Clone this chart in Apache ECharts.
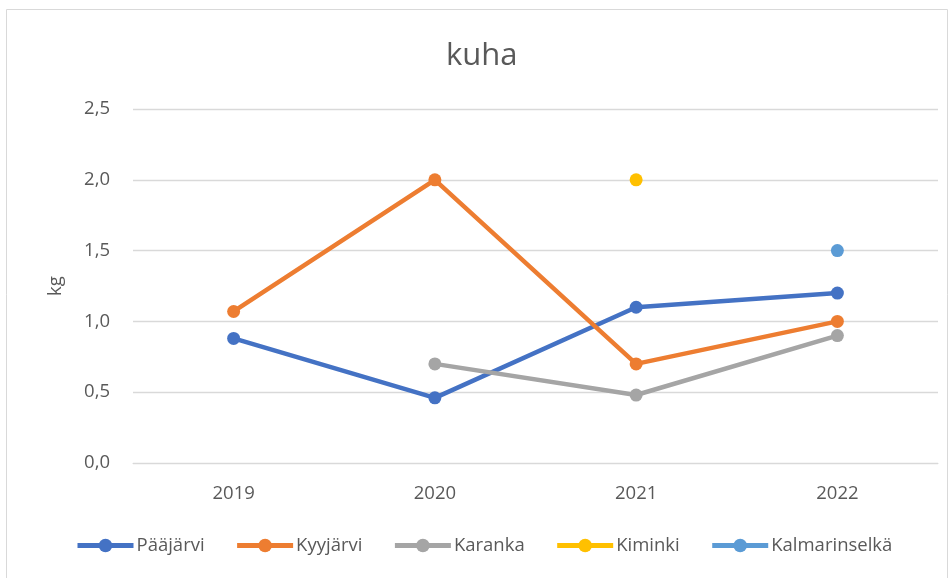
<!DOCTYPE html>
<html>
<head>
<meta charset="utf-8">
<script src="https://cdn.jsdelivr.net/npm/echarts@6/dist/echarts.min.js"></script>
<style>
  html, body { margin: 0; padding: 0; background: #fff; }
  #main { width: 952px; height: 578px; }
</style>
</head>
<body>
<div id="main"></div>
<script>
const years = ['2019', '2020', '2021', '2022'];
const paajarvi = [0.88, 0.46, 1.1, 1.2];
const kyyjarvi = [1.07, 2.0, 0.7, 1.0];
const karanka = [null, 0.7, 0.48, 0.9];
const kiminki = [null, null, 2.0, null];
const kalmarinselka = [null, null, null, 1.5];

const myChart = echarts.init(document.getElementById('main'));

const font = 'Open Sans';

function line(name, data, color) {
  return {
    name: name,
    type: 'line',
    data: data,
    symbol: 'circle',
    symbolSize: 13,
    showAllSymbol: true,
    connectNulls: false,
    itemStyle: { color: color },
    lineStyle: { width: 4.5, color: color }
  };
}

const option = {
  animation: false,
  textStyle: { fontFamily: font },
  graphic: [{
    type: 'rect',
    shape: { x: 6.5, y: 9.5, width: 941, height: 580 },
    style: { fill: 'none', stroke: '#d9d9d9', lineWidth: 1 },
    silent: true
  }],
  title: {
    text: 'kuha',
    left: 441,
    top: 36,
    textStyle: { fontFamily: font, fontSize: 31, fontWeight: 'normal', color: '#595959' }
  },
  legend: {
    bottom: 18,
    left: 70,
    itemWidth: 56,
    itemHeight: 17,
    itemGap: 30,
    lineStyle: { width: 5 },
    textStyle: { fontFamily: font, fontSize: 18.5, color: '#595959', padding: [0, 0, 0, -2] },
    data: ['Pääjärvi', 'Kyyjärvi', 'Karanka', 'Kiminki', 'Kalmarinselkä']
  },
  grid: { left: 133, right: 14, top: 109, bottom: 115 },
  xAxis: {
    type: 'category',
    data: years,
    axisLine: { show: true, lineStyle: { color: '#d9d9d9' } },
    axisTick: { show: false },
    axisLabel: { fontFamily: font, fontSize: 18.5, color: '#595959', margin: 21 }
  },
  yAxis: {
    type: 'value',
    name: 'kg',
    nameLocation: 'middle',
    nameGap: 68,
    nameTextStyle: { fontFamily: font, fontSize: 18.5, color: '#595959' },
    min: 0,
    max: 2.5,
    interval: 0.5,
    axisLine: { show: false },
    axisTick: { show: false },
    splitLine: { lineStyle: { color: '#d9d9d9', width: 1.3 } },
    axisLabel: {
      fontFamily: font, fontSize: 18.5, color: '#595959', margin: 23,
      formatter: v => v.toFixed(1).replace('.', ',')
    }
  },
  series: [
    line('Pääjärvi', paajarvi, '#4472C4'),
    line('Kyyjärvi', kyyjarvi, '#ED7D31'),
    line('Karanka', karanka, '#A5A5A5'),
    line('Kiminki', kiminki, '#FFC000'),
    line('Kalmarinselkä', kalmarinselka, '#5B9BD5')
  ]
};

myChart.setOption(option);
</script>
</body>
</html>
